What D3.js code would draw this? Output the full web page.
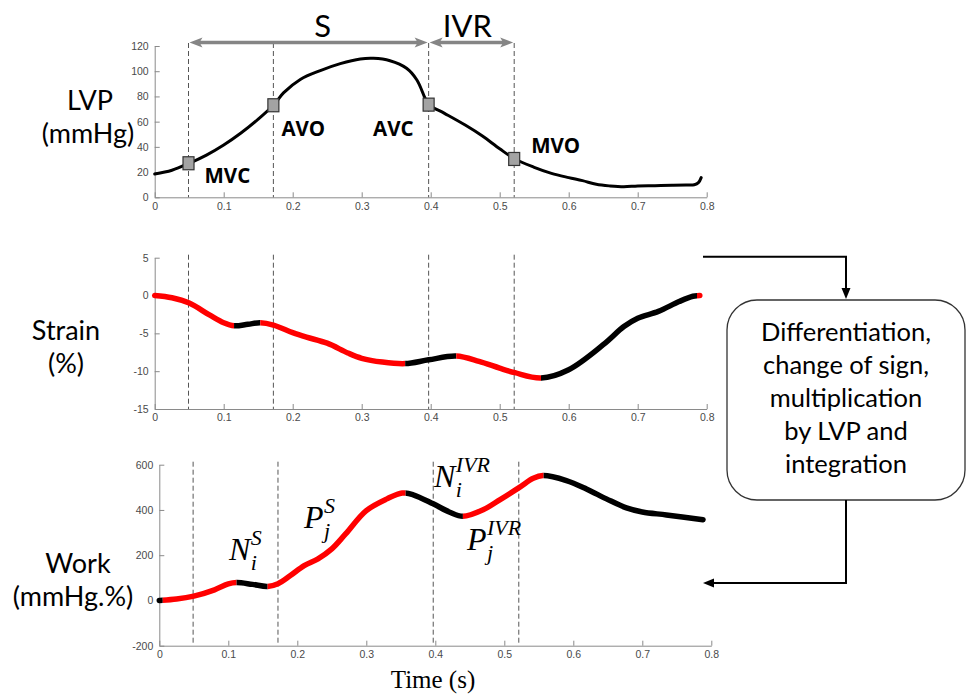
<!DOCTYPE html>
<html>
<head>
<meta charset="utf-8">
<script src="https://cdn.jsdelivr.net/npm/d3@7"></script>
<style>
  body { margin: 0; background: #fff; }
  svg { display: block; }
</style>
</head>
<body>
<svg id="chart" width="967" height="696"></svg>
<script>
// ---- data ----
var timeTicks = [0, 0.1, 0.2, 0.3, 0.4, 0.5, 0.6, 0.7, 0.8];
var lvpTicks = [0, 20, 40, 60, 80, 100, 120];
var strainTicks = [-15, -10, -5, 0, 5];
var workTicks = [-200, 0, 200, 400, 600];

var lvpT = [0, 0.025, 0.05, 0.075, 0.1, 0.125, 0.15, 0.172, 0.187, 0.211, 0.24, 0.269, 0.298, 0.317, 0.341, 0.365, 0.38, 0.392, 0.397,
            0.42, 0.45, 0.475, 0.5, 0.522, 0.55, 0.575, 0.6, 0.62, 0.64, 0.66, 0.68, 0.7, 0.725, 0.75, 0.77, 0.782, 0.788, 0.792];
var lvpV = [18.5, 21.5, 27, 33.5, 41.5, 51, 62, 73, 83, 93.5, 100.5, 106, 109.7, 110.2, 108.3, 102.3, 93, 78.4, 73.5,
            66.6, 57.3, 48.6, 38.5, 30.4, 23.8, 19, 15.6, 13.2, 10.3, 9, 8.4, 9, 9.2, 9.5, 9.8, 10, 11.6, 15.6];

var strainT = [0, 0.025, 0.05, 0.08, 0.1, 0.115, 0.135, 0.153, 0.172, 0.2, 0.22, 0.25, 0.28, 0.3, 0.33, 0.363, 0.397,
               0.437, 0.47, 0.5, 0.522, 0.56, 0.6, 0.65, 0.68, 0.7, 0.73, 0.76, 0.78, 0.79];
var strainV = [0, -0.3, -1.0, -2.6, -3.6, -4.0, -3.8, -3.6, -3.9, -4.9, -5.5, -6.3, -7.6, -8.3, -8.8, -9.0, -8.5,
               -8.0, -8.7, -9.6, -10.2, -10.9, -9.8, -6.5, -4.1, -3.0, -2.1, -0.8, -0.1, 0];
var strainSegStart = [0, 0.115, 0.153, 0.363, 0.437, 0.56, 0.786];
var strainSegColor = ["red", "black", "red", "black", "red", "black", "red"];

var workT = [0, 0.025, 0.05, 0.08, 0.1, 0.112, 0.135, 0.157, 0.172, 0.19, 0.21, 0.23, 0.25, 0.27, 0.3, 0.33, 0.352,
             0.368, 0.397, 0.421, 0.44, 0.47, 0.494, 0.522, 0.542, 0.556, 0.59, 0.619, 0.648, 0.677, 0.7, 0.735, 0.788];
var workV = [0, 6, 19, 47, 73, 79, 71, 62, 74, 110, 154, 184, 228, 294, 397, 449, 475,
             467, 427, 390, 372, 402, 446, 500, 540, 552, 530, 493, 449, 409, 391, 378, 357];
var workSegStart = [0, 0.005, 0.112, 0.157, 0.357, 0.44, 0.557];
var workSegColor = ["black", "red", "black", "red", "black", "red", "black"];

var eventNames = ["MVC", "AVO", "AVC", "MVO"];
var eventT = [0.049, 0.172, 0.397, 0.521];
var eventLVP = [27, 73, 73.5, 30.4];

var phaseNames = ["S", "IVR"];
var phaseStart = [0.049, 0.397];
var phaseEnd = [0.397, 0.521];

var boxLines = ["Differentiation,", "change of sign,", "multiplication", "by LVP and", "integration"];

// ---- layout ----
var svg = d3.select("#chart");
var defs = svg.append("defs");

var xL = d3.scaleLinear().domain([0, 0.8]).range([154.7, 706.7]);
var yL = d3.scaleLinear().domain([0, 120]).range([197.3, 46]);
var yS = d3.scaleLinear().domain([-15, 5]).range([409, 257.7]);
var xW = d3.scaleLinear().domain([0, 0.8]).range([159.3, 711.3]);
var yW = d3.scaleLinear().domain([-200, 600]).range([645.7, 464.7]);

function drawAxes(x, y, yTicks) {
  var gx = svg.append("g")
    .attr("transform", "translate(0," + y.range()[0] + ")")
    .call(d3.axisBottom(x).tickValues(timeTicks).tickFormat(d3.format("~g"))
      .tickSizeInner(-5).tickSizeOuter(0).tickPadding(5));
  var gy = svg.append("g")
    .attr("transform", "translate(" + x.range()[0] + ",0)")
    .call(d3.axisLeft(y).tickValues(yTicks).tickFormat(function(d) { return String(d); })
      .tickSizeInner(-5).tickSizeOuter(0).tickPadding(6));
  [gx, gy].forEach(function(g) {
    g.select(".domain").attr("stroke", "#8a8a8a");
    g.selectAll(".tick line").attr("stroke", "#8a8a8a");
    g.selectAll(".tick text").attr("fill", "#4a4a4a")
      .style("font-family", "'Liberation Sans', Arial, sans-serif").style("font-size", "10.5px");
  });
}

function drawEvents(x, y) {
  svg.append("g").selectAll("line")
    .data(eventT)
    .enter()
    .append("line")
    .attr("x1", function(d) { return x(d); })
    .attr("x2", function(d) { return x(d); })
    .attr("y1", y.range()[1] - 3)
    .attr("y2", y.range()[0])
    .attr("stroke", "#555")
    .attr("stroke-width", 1)
    .attr("stroke-dasharray", "5,3");
}

function drawSegments(x, y, T, V, starts, colors, id) {
  var line = d3.line()
    .x(function(d, i) { return x(T[i]); })
    .y(function(d) { return y(d); })
    .curve(d3.curveCatmullRom.alpha(0.5));
  var pathD = line(V);
  starts.forEach(function(s, i) {
    var e = i < starts.length - 1 ? starts[i + 1] : 0.86;
    var x0 = i === 0 ? x(s) - 10 : x(s);
    defs.append("clipPath").attr("id", id + i)
      .append("rect").attr("x", x0).attr("y", 0).attr("width", x(e) - x0).attr("height", 696);
    svg.append("path")
      .attr("d", pathD)
      .attr("clip-path", "url(#" + id + i + ")")
      .attr("fill", "none")
      .attr("stroke", colors[i])
      .attr("stroke-width", 5.5)
      .attr("stroke-linecap", "round")
      .attr("stroke-linejoin", "round");
  });
}

// axes + event lines
drawAxes(xL, yL, lvpTicks);
drawAxes(xL, yS, strainTicks);
drawAxes(xW, yW, workTicks);
drawEvents(xL, yL);
drawEvents(xL, yS);
drawEvents(xW, yW);

// LVP curve
var lvpLine = d3.line()
  .x(function(d, i) { return xL(lvpT[i]); })
  .y(function(d) { return yL(d); })
  .curve(d3.curveCatmullRom.alpha(0.5));
svg.append("path")
  .attr("d", lvpLine(lvpV))
  .attr("fill", "none")
  .attr("stroke", "#000")
  .attr("stroke-width", 3)
  .attr("stroke-linecap", "round");

// valve event markers
svg.append("g").selectAll("rect")
  .data(eventT)
  .enter()
  .append("rect")
  .attr("x", function(d) { return xL(d) - 5.5; })
  .attr("y", function(d, i) { return yL(eventLVP[i]) - 6.5; })
  .attr("width", 11)
  .attr("height", 13)
  .attr("fill", "#a3a3a3")
  .attr("stroke", "#333")
  .attr("stroke-width", 1.2);

var evDx = [16, 8, -15, 17];
var evDy = [20, 31, 31, -6];
var evAnchor = ["start", "start", "end", "start"];
svg.append("g").selectAll("text")
  .data(eventNames)
  .enter()
  .append("text")
  .attr("x", function(d, i) { return xL(eventT[i]) + evDx[i]; })
  .attr("y", function(d, i) { return yL(eventLVP[i]) + evDy[i]; })
  .attr("text-anchor", function(d, i) { return evAnchor[i]; })
  .style("font-family", "'Open Sans', sans-serif")
  .style("font-weight", "700")
  .style("font-size", "20.5px")
  .text(function(d) { return d; });

// phase arrows S / IVR
var arrowY = 42.5;
var phaseDx = [14, -4];
phaseNames.forEach(function(name, i) {
  var a = xL(phaseStart[i]) + 1, b = xL(phaseEnd[i]) - 1;
  var g = svg.append("g").attr("fill", "#858585").attr("stroke", "#858585");
  g.append("line").attr("x1", a + 8).attr("x2", b - 8).attr("y1", arrowY).attr("y2", arrowY).attr("stroke-width", 3.5);
  g.append("path").attr("stroke", "none")
    .attr("d", "M" + a + "," + arrowY + "L" + (a + 13) + "," + (arrowY - 5) + "L" + (a + 10) + "," + arrowY + "L" + (a + 13) + "," + (arrowY + 5) + "Z");
  g.append("path").attr("stroke", "none")
    .attr("d", "M" + b + "," + arrowY + "L" + (b - 13) + "," + (arrowY - 5) + "L" + (b - 10) + "," + arrowY + "L" + (b - 13) + "," + (arrowY + 5) + "Z");
  svg.append("text")
    .attr("x", (a + b) / 2 + phaseDx[i])
    .attr("y", 37)
    .attr("text-anchor", "middle")
    .style("font-family", "Lato, sans-serif")
    .style("font-size", "31px")
    .text(name);
});

// strain and work curves
drawSegments(xL, yS, strainT, strainV, strainSegStart, strainSegColor, "clipS");
drawSegments(xW, yW, workT, workV, workSegStart, workSegColor, "clipW");

// math labels on work
var mathLabels = [
  { base: "N", sub: "i", sup: "S", x: 229, y: 560 },
  { base: "P", sub: "j", sup: "S", x: 304, y: 528 },
  { base: "N", sub: "i", sup: "IVR", x: 434, y: 487 },
  { base: "P", sub: "j", sup: "IVR", x: 467, y: 550 }
];
mathLabels.forEach(function(m) {
  var t = svg.append("text")
    .attr("x", m.x).attr("y", m.y)
    .style("font-family", "'Liberation Serif', serif")
    .style("font-style", "italic")
    .style("font-size", "32px")
    .text(m.base);
  var w = t.node().getComputedTextLength();
  svg.append("text")
    .attr("x", m.x + w + 0.5).attr("y", m.y - 15)
    .style("font-family", "'Liberation Serif', serif")
    .style("font-style", "italic")
    .style("font-size", "22px")
    .text(m.sup);
  svg.append("text")
    .attr("x", m.x + w + 0.5).attr("y", m.y + 10)
    .style("font-family", "'Liberation Serif', serif")
    .style("font-style", "italic")
    .style("font-size", "22px")
    .text(m.sub);
});

// left y labels
var sideLabels = [
  { lines: ["LVP", "(mmHg)"], x: [90, 88], y: 110 },
  { lines: ["Strain", "(%)"], x: [66, 66], y: 340 },
  { lines: ["Work", "(mmHg.%)"], x: [78, 73], y: 573 }
];
sideLabels.forEach(function(s) {
  s.lines.forEach(function(l, i) {
    svg.append("text")
      .attr("x", s.x[i])
      .attr("y", s.y + i * 33)
      .attr("text-anchor", "middle")
      .style("font-family", "Lato, sans-serif")
      .style("font-size", "27px")
      .text(l);
  });
});

// x axis title
svg.append("text")
  .attr("x", 433)
  .attr("y", 688)
  .attr("text-anchor", "middle")
  .style("font-family", "'Liberation Serif', serif")
  .style("font-size", "25px")
  .text("Time (s)");

// process box and connectors
var boxCx = 846;
svg.append("rect")
  .attr("x", 727).attr("y", 300).attr("width", 238).attr("height", 200).attr("rx", 30)
  .attr("fill", "#fff").attr("stroke", "#333").attr("stroke-width", 1.3);
svg.append("g").selectAll("text")
  .data(boxLines)
  .enter()
  .append("text")
  .attr("x", boxCx)
  .attr("y", function(d, i) { return 341 + i * 33; })
  .attr("text-anchor", "middle")
  .style("font-family", "Lato, sans-serif")
  .style("font-size", "25.5px")
  .text(function(d) { return d; });

var topY = yS(5) - 1;
svg.append("path")
  .attr("d", "M703," + topY + "H" + boxCx + "V290")
  .attr("fill", "none").attr("stroke", "#000").attr("stroke-width", 2);
svg.append("path")
  .attr("d", "M" + boxCx + ",299L" + (boxCx - 4.5) + ",288L" + (boxCx + 4.5) + ",288Z")
  .attr("fill", "#000");
svg.append("path")
  .attr("d", "M" + boxCx + ",500V583H712")
  .attr("fill", "none").attr("stroke", "#000").attr("stroke-width", 2);
svg.append("path")
  .attr("d", "M703,583L714,578.5L714,587.5Z")
  .attr("fill", "#000");
</script>
</body>
</html>
